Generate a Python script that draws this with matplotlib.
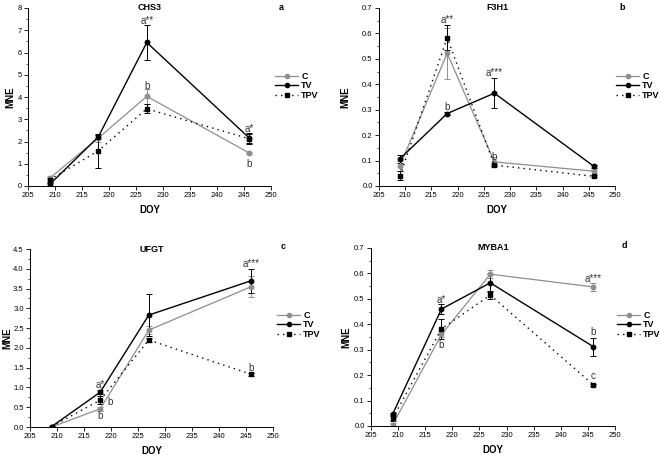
import numpy as np
import matplotlib
matplotlib.use("Agg")
import matplotlib.pyplot as plt
from matplotlib.lines import Line2D
from matplotlib.ticker import MultipleLocator

plt.rcParams["font.family"] = ["Liberation Sans", "DejaVu Sans"]

# ---------------- data ----------------
doy = [209, 218, 227, 246]

chs3_c = [0.35, 2.15, 4.03, 1.48]
chs3_c_err = [0.08, 0.15, 0.35, 0.05]
chs3_tv = [0.07, 2.20, 6.45, 2.15]
chs3_tv_err = [0.05, 0.10, 0.80, 0.25]
chs3_tpv = [0.28, 1.58, 3.47, 2.12]
chs3_tpv_err = [0.10, 0.75, 0.20, 0.20]

f3h1_c = [0.080, 0.522, 0.095, 0.058]
f3h1_c_err = [0.020, 0.100, 0.020, 0.005]
f3h1_tv = [0.107, 0.285, 0.365, 0.077]
f3h1_tv_err = [0.015, 0.005, 0.058, 0.005]
f3h1_tpv = [0.040, 0.583, 0.082, 0.038]
f3h1_tpv_err = [0.018, 0.050, 0.005, 0.004]

ufgt_c = [0.00, 0.46, 2.45, 3.55]
ufgt_c_err = [0.01, 0.05, 0.10, 0.27]
ufgt_tv = [0.01, 0.88, 2.83, 3.70]
ufgt_tv_err = [0.01, 0.05, 0.52, 0.30]
ufgt_tpv = [0.01, 0.68, 2.20, 1.33]
ufgt_tpv_err = [0.00, 0.10, 0.05, 0.03]

myba1_c = [0.005, 0.360, 0.597, 0.547]
myba1_c_err = [0.005, 0.010, 0.015, 0.015]
myba1_tv = [0.047, 0.460, 0.563, 0.312]
myba1_tv_err = [0.005, 0.020, 0.035, 0.035]
myba1_tpv = [0.030, 0.382, 0.515, 0.162]
myba1_tpv_err = [0.010, 0.040, 0.015, 0.005]

# (x, y, text) significance letters
chs3_notes = [(227, 7.42, "a**"), (227, 4.5, "b"), (246, 2.55, "a*"), (246, 1.0, "b")]
f3h1_notes = [(218, 0.652, "a**"), (218, 0.31, "b"), (227, 0.443, "a***"),
              (227, 0.115, "b")]
ufgt_notes = [(218, 1.07, "a*"), (219.8, 0.62, "b"), (218, 0.27, "b"),
              (246, 4.12, "a***"), (246, 1.5, "b")]
myba1_notes = [(218, 0.495, "a*"), (218, 0.32, "b"), (246, 0.58, "a***"),
               (246, 0.37, "b"), (246, 0.195, "c")]

GRAY = "#8e8e8e"

fig = plt.figure(figsize=(6.6, 4.55), dpi=100)


def panel(rect, title, letter, c, ce, tv, tve, tpv, tpve, notes, ymax, ymajor, yminor, fmt,
          legend_xy, letter_xy, ylab_x):
    ax = fig.add_axes(rect)
    kw = dict(capsize=2, elinewidth=0.7, capthick=0.7, markersize=3.2)
    ax.errorbar(doy, c, yerr=ce, color=GRAY, marker="o", lw=0.9, ecolor=GRAY, **kw)
    ax.errorbar(doy, tv, yerr=tve, color="black", marker="o", lw=1.0, **kw)
    ax.errorbar(doy, tpv, yerr=tpve, color="black", marker="s", lw=1.0,
                ls=(0, (1, 3)), **kw)
    for x, y, t in notes:
        ax.text(x, y, t, ha="center", va="center", fontsize=7, color="#333333")
    ax.set_xlim(205, 250)
    ax.set_ylim(0, ymax)
    ax.xaxis.set_major_locator(MultipleLocator(5))
    ax.yaxis.set_major_locator(MultipleLocator(ymajor))
    ax.yaxis.set_minor_locator(MultipleLocator(yminor))
    ax.yaxis.set_major_formatter(plt.FormatStrFormatter(fmt))
    for s in ("top", "right"):
        ax.spines[s].set_visible(False)
    for s in ("left", "bottom"):
        ax.spines[s].set_linewidth(0.7)
    ax.tick_params(labelsize=5.5, width=0.6, length=3, direction="out", pad=1.5)
    ax.tick_params(which="minor", width=0.5, length=1.5)
    ax.text(0.5, 1.0, title, transform=ax.transAxes, ha="center", va="center",
            fontsize=6.5, fontweight="bold")
    ax.set_xlabel("DOY", fontsize=7, fontweight="bold", labelpad=4)
    ax.set_ylabel("MNE", fontsize=7, fontweight="bold")
    ax.yaxis.set_label_coords(ylab_x, 0.5)
    fig.text(letter_xy[0] / 660, 1 - letter_xy[1] / 455, letter, fontsize=6.5,
             fontweight="bold", ha="center", va="center")
    handles = [
        Line2D([], [], color=GRAY, marker="o", markersize=3, lw=0.9),
        Line2D([], [], color="black", marker="o", markersize=3, lw=1.0),
        Line2D([], [], color="black", marker="s", markersize=3, lw=1.0, ls=(0, (1, 3))),
    ]
    fig.legend(handles, ["C", "TV", "TPV"], loc="upper left",
               bbox_to_anchor=(legend_xy[0] / 660, 1 - legend_xy[1] / 455),
               frameon=False, handlelength=2.6, handletextpad=0.3,
               labelspacing=0.05, borderaxespad=0, borderpad=0,
               prop=dict(weight="bold", size=6.5))
    return ax


panel([28 / 660, 1 - 186 / 455, 243 / 660, 178 / 455], "CHS3", "a",
      chs3_c, chs3_c_err, chs3_tv, chs3_tv_err, chs3_tpv, chs3_tpv_err, chs3_notes,
      8, 1, 0.5, "%g", (275, 72), (281, 7), -0.050)
panel([379 / 660, 1 - 186 / 455, 236 / 660, 178 / 455], "F3H1", "b",
      f3h1_c, f3h1_c_err, f3h1_tv, f3h1_tv_err, f3h1_tpv, f3h1_tpv_err, f3h1_notes,
      0.7, 0.1, 0.05, "%.1f", (616, 72), (622, 7), -0.122)
panel([30 / 660, 1 - 427 / 455, 243 / 660, 178 / 455], "UFGT", "c",
      ufgt_c, ufgt_c_err, ufgt_tv, ufgt_tv_err, ufgt_tpv, ufgt_tpv_err, ufgt_notes,
      4.5, 0.5, 0.25, "%.1f", (277, 311), (283, 247), -0.073)
panel([371 / 660, 1 - 426 / 455, 244 / 660, 178 / 455], "MYBA1", "d",
      myba1_c, myba1_c_err, myba1_tv, myba1_tv_err, myba1_tpv, myba1_tpv_err, myba1_notes,
      0.7, 0.1, 0.05, "%.1f", (617, 311), (624, 246), -0.082)

fig.savefig("out.png", dpi=100)
